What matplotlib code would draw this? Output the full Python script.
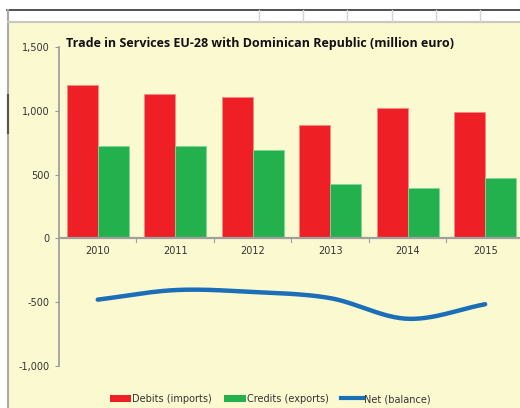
import numpy as np
import matplotlib.pyplot as plt
from matplotlib.patches import Rectangle, Patch
from matplotlib.lines import Line2D

years = ["2010", "2011", "2012", "2013", "2014", "2015"]
debits = [1200, 1130, 1112, 892, 1020, 990]
credits = [724, 724, 692, 424, 392, 474]
net = [-480, -405, -420, -468, -630, -516]

red = "#EE1F25"
green = "#23B14D"
blue = "#1B6FB8"
bg = "#FBF9D0"

W, H = 520, 408
fig = plt.figure(figsize=(W / 100, H / 100), dpi=100)

def fx(px):
    return px / W

def fy(py):
    return 1 - py / H

# spreadsheet-like frame around the chart
fig.patches.append(Rectangle((fx(8), 0), 1 - fx(8), fy(22), transform=fig.transFigure,
                             facecolor=bg, edgecolor="none", zorder=-5))
fig.add_artist(Line2D([fx(7), 1], [fy(10), fy(10)], color="#333333", lw=1.2))
fig.add_artist(Line2D([fx(7.5), fx(7.5)], [0, fy(10)], color="#aaaaaa", lw=1.5))
fig.add_artist(Line2D([fx(8), 1], [fy(22), fy(22)], color="#c8c8c0", lw=1.5))
for gx in [259, 303, 347, 391.5, 435.5, 480]:
    fig.add_artist(Line2D([fx(gx), fx(gx)], [fy(22), fy(10)], color="#d4d4d4", lw=1))
fig.add_artist(Line2D([fx(7.5), fx(7.5)], [fy(133), fy(95)], color="#555555", lw=1.5))

ax = fig.add_axes([fx(59), fy(366), 1 - fx(59), fy(47) - fy(366)])
ax.set_facecolor("none")

x = np.arange(len(years))
w = 0.4
ax.bar(x - w / 2, debits, w, color=red, edgecolor="#f58a8a", linewidth=0.6, zorder=2)
ax.bar(x + w / 2, credits, w, color=green, edgecolor="#7fd89a", linewidth=0.6, zorder=2)

# smoothed line (Catmull-Rom through the data points)
pts = np.column_stack([x, net]).astype(float)
ext = np.vstack([2 * pts[0] - pts[1], pts, 2 * pts[-1] - pts[-2]])
curve = []
t = np.linspace(0, 1, 30)[:, None]
for i in range(1, len(ext) - 2):
    p0, p1, p2, p3 = ext[i - 1], ext[i], ext[i + 1], ext[i + 2]
    seg = 0.5 * ((2 * p1) + (-p0 + p2) * t + (2 * p0 - 5 * p1 + 4 * p2 - p3) * t ** 2
                 + (-p0 + 3 * p1 - 3 * p2 + p3) * t ** 3)
    curve.append(seg)
curve = np.vstack(curve)
ax.plot(curve[:, 0], curve[:, 1], color=blue, lw=3.2, solid_capstyle="round", zorder=3)

ax.set_ylim(-1000, 1500)
ax.set_xlim(-0.5, 5.45)
ax.set_yticks([-1000, -500, 0, 500, 1000, 1500])
ax.set_yticklabels(["-1,000", "-500", "0", "500", "1,000", "1,500"])
ax.tick_params(axis="y", length=3, color="#999999", labelsize=7, labelcolor="#333333", pad=4)

for s in ["top", "right", "bottom"]:
    ax.spines[s].set_visible(False)
ax.spines["left"].set_color("#a0a0a0")
ax.spines["left"].set_linewidth(1.3)
ax.axhline(0, color="#a0a0a0", lw=1.6, zorder=4)
ax.set_xticks([])
for i in range(1, len(years)):
    ax.plot([i - 0.5, i - 0.5], [0, -25], color="#a0a0a0", lw=0.8, clip_on=False)
for i, yr in enumerate(years):
    ax.text(i, -60, yr, ha="center", va="top", fontsize=7, color="#333333")

fig.text(fx(66), fy(43), "Trade in Services EU-28 with Dominican Republic (million euro)",
         fontsize=9.0, fontweight="bold", color="#111111", va="center", ha="left",
         family="Open Sans")

handles = [Patch(facecolor=red, edgecolor="none"),
           Patch(facecolor=green, edgecolor="none"),
           Line2D([], [], color=blue, lw=3)]
fig.legend(handles, ["Debits (imports)", "Credits (exports)", "Net (balance)"],
           loc="center", bbox_to_anchor=(fx(270), fy(399)), ncol=3, frameon=False,
           fontsize=7, handlelength=2.2, handleheight=0.8, handletextpad=0.1,
           columnspacing=1.3, labelcolor="#333333")

fig.savefig("out.png", dpi=100)
